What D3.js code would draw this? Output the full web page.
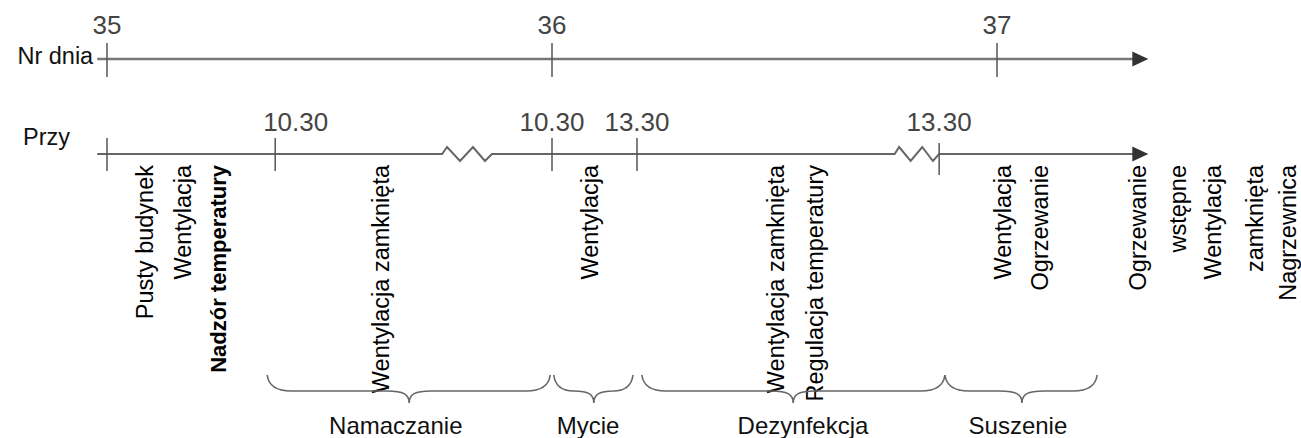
<!DOCTYPE html>
<html lang="pl">
<head>
  <meta charset="UTF-8">
  <title>Oś czasu – przygotowanie budynku</title>
  <script src="https://d3js.org/d3.v7.min.js"></script>
  <style>
    html, body { margin: 0; padding: 0; background: #fff; }
    body { font-family: 'Liberation Sans', Arial, sans-serif; }
    svg text { font-family: 'Liberation Sans', Arial, sans-serif; }
  </style>
</head>
<body>
  <div id="chart"></div>

  <script>
    // dni na górnej osi
    const dayTicks = [35, 36, 37];

    // dolna oś (pozycje w "dniach" schematu)
    const axisStart = 34.978;
    const axisEnd = 37.34;
    const timeTicks = [35.0, 35.378, 36.0, 36.191, 36.87];
    const timeLabels = ["", "10.30", "10.30", "13.30", "13.30"];
    const timeLabelAt = [35.0, 35.424, 36.0, 36.191, 36.87];

    // przerwy (zygzak) na dolnej osi
    const breakStart = [35.753, 36.77];
    const breakEnd = [35.865, 36.87];

    // pionowe opisy
    const noteText = [
      "Pusty budynek", "Wentylacja", "Nadzór temperatury",
      "Wentylacja zamknięta",
      "Wentylacja",
      "Wentylacja zamknięta", "Regulacja temperatury",
      "Wentylacja", "Ogrzewanie",
      "Ogrzewanie", "wstępne", "Wentylacja", "zamknięta", "Nagrzewnica"
    ];
    const noteAt = [35.103, 35.189, 35.267, 35.634, 36.103, 36.521, 36.609,
                    37.031, 37.115, 37.335, 37.425, 37.503, 37.598, 37.672];
    const noteBold = [false, false, true, false, false, false, false,
                      false, false, false, false, false, false, false];

    // fazy (klamry)
    const phases = ["Namaczanie", "Mycie", "Dezynfekcja", "Suszenie"];
    const phaseStart = [35.36, 36.004, 36.202, 36.883];
    const phaseEnd = [35.996, 36.182, 36.883, 37.225];
    const phaseTip = [35.679, 36.094, 36.542, 37.056];
    const phaseLabelAt = [35.649, 36.081, 36.564, 37.047];

    const W = 1301, H = 438;
    const yDay = 59, yTime = 154;

    const svg = d3.select("#chart").append("svg")
      .attr("width", W)
      .attr("height", H);

    const x = d3.scaleLinear()
      .domain([35, 37])
      .range([107, 997]);

    const lineColor = "#777";
    const tickColor = "#555";
    const numColor = "#444";

    // ---- górna oś: Nr dnia ----
    svg.append("line")
      .attr("x1", x(axisStart)).attr("x2", x(axisEnd) - 14)
      .attr("y1", yDay).attr("y2", yDay)
      .attr("stroke", lineColor).attr("stroke-width", 2.5);

    svg.append("path")
      .attr("d", `M${x(axisEnd)},${yDay} L${x(axisEnd) - 16},${yDay - 7.5} L${x(axisEnd) - 16},${yDay + 7.5} Z`)
      .attr("fill", "#333");

    svg.selectAll("line.day")
      .data(dayTicks)
      .join("line")
      .attr("class", "day")
      .attr("x1", d => x(d)).attr("x2", d => x(d))
      .attr("y1", yDay - 16).attr("y2", yDay + 18)
      .attr("stroke", tickColor).attr("stroke-width", 1.5);

    svg.selectAll("text.day")
      .data(dayTicks)
      .join("text")
      .attr("class", "day")
      .attr("x", d => x(d))
      .attr("y", 34)
      .attr("text-anchor", "middle")
      .attr("font-size", 26)
      .attr("fill", numColor)
      .text(d => d);

    svg.append("text")
      .attr("x", x(axisStart) - 4)
      .attr("y", 64)
      .attr("text-anchor", "end")
      .attr("font-size", 23.5)
      .attr("fill", "#111")
      .text("Nr dnia");

    // ---- dolna oś: Przy (z przerwami) ----
    const amp = 7;
    let d = `M${x(axisStart)},${yTime}`;
    breakStart.forEach((b, i) => {
      const a = x(b), e = x(breakEnd[i]), w = e - a;
      d += ` L${a},${yTime}`;
      d += ` L${a + w * 0.1},${yTime - amp}`;
      d += ` L${a + w * 0.36},${yTime + amp}`;
      d += ` L${a + w * 0.62},${yTime - amp}`;
      d += ` L${a + w * 0.86},${yTime + amp}`;
      d += ` L${e},${yTime}`;
    });
    d += ` L${x(axisEnd) - 14},${yTime}`;

    svg.append("path")
      .attr("d", d)
      .attr("fill", "none")
      .attr("stroke", "#666")
      .attr("stroke-width", 2);

    svg.append("path")
      .attr("d", `M${x(axisEnd)},${yTime} L${x(axisEnd) - 16},${yTime - 7.5} L${x(axisEnd) - 16},${yTime + 7.5} Z`)
      .attr("fill", "#333");

    svg.selectAll("line.time")
      .data(timeTicks)
      .join("line")
      .attr("class", "time")
      .attr("x1", t => x(t)).attr("x2", t => x(t))
      .attr("y1", (t, i) => i === timeTicks.length - 1 ? yTime - 11 : yTime - 16)
      .attr("y2", (t, i) => i === timeTicks.length - 1 ? yTime + 21 : yTime + 17)
      .attr("stroke", tickColor).attr("stroke-width", 1.5);

    svg.selectAll("text.time")
      .data(timeLabels)
      .join("text")
      .attr("class", "time")
      .attr("x", (t, i) => x(timeLabelAt[i]))
      .attr("y", 131)
      .attr("text-anchor", "middle")
      .attr("font-size", 26)
      .attr("fill", numColor)
      .text(t => t);

    svg.append("text")
      .attr("x", 23)
      .attr("y", 145)
      .attr("font-size", 23.5)
      .attr("fill", "#111")
      .text("Przy");

    // ---- pionowe opisy ----
    svg.selectAll("text.note")
      .data(noteText)
      .join("text")
      .attr("class", "note")
      .attr("transform", (t, i) => `translate(${x(noteAt[i])},165) rotate(-90)`)
      .attr("text-anchor", "end")
      .attr("font-size", (t, i) => noteBold[i] ? 22 : 23.5)
      .attr("font-weight", (t, i) => noteBold[i] ? "bold" : "normal")
      .attr("fill", "#000")
      .text(t => t);

    // ---- klamry ----
    const yEnd = 375, yMid = 391, yTip = 403;
    function brace(i) {
      const x0 = x(phaseStart[i]), x1 = x(phaseEnd[i]), xt = x(phaseTip[i]);
      const r = Math.min(24, (x1 - x0) / 4);
      const c = Math.min(22, (x1 - x0) / 4);
      return `M${x0},${yEnd}` +
        ` Q${x0 + 2},${yMid} ${x0 + r},${yMid}` +
        ` L${xt - c},${yMid}` +
        ` C${xt - 6},${yMid} ${xt},${yMid + 3} ${xt},${yTip}` +
        ` C${xt},${yMid + 3} ${xt + 6},${yMid} ${xt + c},${yMid}` +
        ` L${x1 - r},${yMid}` +
        ` Q${x1 - 2},${yMid} ${x1},${yEnd}`;
    }

    svg.selectAll("path.brace")
      .data(phases)
      .join("path")
      .attr("class", "brace")
      .attr("d", (p, i) => brace(i))
      .attr("fill", "none")
      .attr("stroke", "#666")
      .attr("stroke-width", 1.6);

    svg.selectAll("text.phase")
      .data(phases)
      .join("text")
      .attr("class", "phase")
      .attr("x", (p, i) => x(phaseLabelAt[i]))
      .attr("y", 434)
      .attr("text-anchor", "middle")
      .attr("font-size", 24)
      .attr("fill", "#111")
      .text(p => p);
  </script>
</body>
</html>
